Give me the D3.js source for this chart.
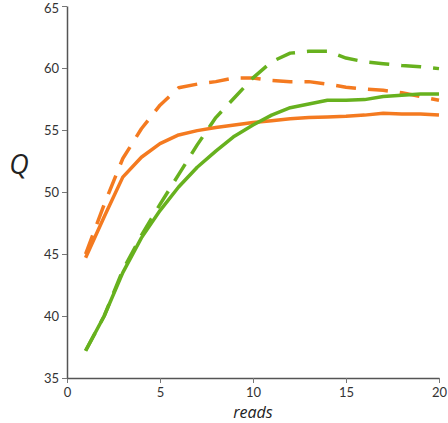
<!DOCTYPE html>
<html><head><meta charset="utf-8">
<script src="https://cdn.jsdelivr.net/npm/d3@7"></script>
<style>body{margin:0;background:#fff}svg{display:block}</style>
</head><body>
<script>
const reads = d3.range(1, 21);
const orangeSolid  = [44.7, 48.0, 51.2, 52.8, 53.9, 54.6, 54.95, 55.2, 55.4, 55.6, 55.75, 55.9, 56.0, 56.05, 56.1, 56.2, 56.35, 56.3, 56.3, 56.2];
const orangeDashed = [45.0, 49.0, 52.7, 55.1, 57.0, 58.4, 58.7, 58.9, 59.2, 59.2, 59.0, 58.9, 58.9, 58.7, 58.45, 58.3, 58.2, 58.0, 57.7, 57.4];
const greenSolid   = [37.2, 40.0, 43.5, 46.3, 48.5, 50.4, 52.0, 53.3, 54.5, 55.4, 56.2, 56.8, 57.1, 57.4, 57.4, 57.45, 57.7, 57.8, 57.9, 57.9];
const greenDashed  = [37.2, 40.0, 43.7, 46.5, 49.0, 51.4, 53.8, 56.0, 57.6, 59.2, 60.5, 61.2, 61.35, 61.35, 60.8, 60.5, 60.35, 60.2, 60.1, 59.95];
const xTicks = [0, 5, 10, 15, 20];
const yTicks = [35, 40, 45, 50, 55, 60, 65];

const W = 448, H = 423;
const svg = d3.select("body").append("svg").attr("width", W).attr("height", H);
const x = d3.scaleLinear().domain([0, 20]).range([67, 439]);
const y = d3.scaleLinear().domain([35, 65]).range([378, 6]);
const font = "Lato, 'Open Sans', 'DejaVu Sans', sans-serif";
const italicFont = "'Open Sans', 'DejaVu Sans', sans-serif";

const series = [
  {v: orangeDashed, c: "#f47a20", dash: "20,12"},
  {v: greenDashed,  c: "#67b11e", dash: "20,12"},
  {v: orangeSolid,  c: "#f47a20", dash: null},
  {v: greenSolid,   c: "#67b11e", dash: null}
];
const line = d3.line().x((d, i) => x(reads[i])).y(d => y(d));
series.forEach(s => {
  svg.append("path").datum(s.v).attr("d", line)
    .attr("fill", "none").attr("stroke", s.c).attr("stroke-width", 3.5)
    .attr("stroke-linejoin", "round")
    .attr("stroke-dasharray", s.dash);
});

const xa = svg.append("g").attr("transform", `translate(0,${y(35)})`)
  .call(d3.axisBottom(x).tickValues(xTicks).tickSize(5).tickSizeOuter(0));
const ya = svg.append("g").attr("transform", `translate(${x(0)},0)`)
  .call(d3.axisLeft(y).tickValues(yTicks).tickSize(5).tickSizeOuter(0));
[xa, ya].forEach(a => {
  a.select(".domain").attr("stroke", "#555").attr("stroke-width", 1.5);
  a.selectAll(".tick line").attr("stroke", "#777");
  a.selectAll("text").attr("font-family", font).attr("font-size", 13).attr("fill", "#333");
});
xa.selectAll("text").attr("y", 10).attr("dy", "0.71em");
ya.selectAll("text").attr("x", -8).attr("dy", "0.36em");
ya.selectAll(".tick").filter(d => d === 65).select("text").attr("dy", "0.5em");

svg.append("text").attr("x", x(10)).attr("y", 418).attr("text-anchor", "middle")
  .attr("font-family", italicFont).attr("font-style", "italic").attr("font-size", 16).attr("fill", "#222").text("reads");
svg.append("text").attr("x", 19).attr("y", 174).attr("text-anchor", "middle")
  .attr("font-family", italicFont).attr("font-style", "italic").attr("font-size", 27).attr("fill", "#222").text("Q");
</script>
</body></html>
